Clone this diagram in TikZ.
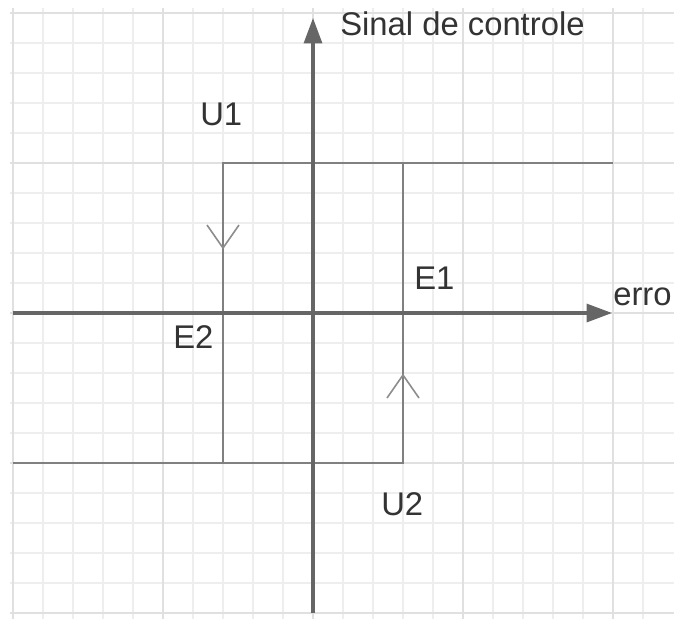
\documentclass[tikz,border=0pt]{standalone}
\usepackage{fontspec}
\setmainfont{Liberation Sans}
\usetikzlibrary{arrows.meta}
\definecolor{gridminor}{HTML}{EEEEEE}
\definecolor{gridmajor}{HTML}{E0E0E0}
\definecolor{axiscol}{HTML}{666666}
\definecolor{curvecol}{HTML}{808080}
\definecolor{textcol}{HTML}{333333}
\tikzset{
  minorgrid/.style={gridminor, line width=0.9pt},
  majorgrid/.style={gridmajor, line width=1pt},
  axis/.style={axiscol, line width=2.3pt, -{Triangle[length=19pt,width=13.5pt]}},
  loopline/.style={curvecol, line width=1.7pt},
  vtip/.style={curvecol!90, line width=1.2pt, line join=miter},
  lbl/.style={anchor=base west, inner sep=0pt, text=textcol, font=\fontsize{24.6}{28}\selectfont}
}
\begin{document}
\begin{tikzpicture}[x=0.75pt,y=-0.75pt]
  \useasboundingbox (0,0) rectangle (674,619);
  \fill[white] (0,0) rectangle (674,619);

  % background grid, 30 px cells, darker every fifth line
  \foreach \k in {0,...,21} {
    \pgfmathsetmacro{\p}{13+30*\k}
    \draw[minorgrid] (\p,8) -- (\p,619);
  }
  \foreach \k in {0,...,20} {
    \pgfmathsetmacro{\p}{13+30*\k}
    \draw[minorgrid] (10,\p) -- (674,\p);
  }
  \foreach \p in {13,163,313,463,613} {
    \draw[majorgrid] (\p,8) -- (\p,619);
    \draw[majorgrid] (10,\p) -- (674,\p);
  }

  % corner points of the hysteresis loop
  \coordinate (tl) at (223,163);
  \coordinate (tr) at (613,163);
  \coordinate (e1top) at (403,163);
  \coordinate (bl) at (13,463);
  \coordinate (br) at (403,463);
  \coordinate (e2bot) at (223,463);

  % hysteresis relay characteristic
  \draw[loopline] (tr) -- (tl) -- (e2bot);
  \draw[loopline] (bl) -- (br) -- (e1top);

  % direction marks on the switching edges
  \coordinate (dn) at (223,248);
  \coordinate (up) at (403,375);
  \draw[vtip] ([xshift=-16*0.75pt,yshift=23*0.75pt]dn) -- (dn) -- ([xshift=16*0.75pt,yshift=23*0.75pt]dn);
  \draw[vtip] ([xshift=-16*0.75pt,yshift=-23*0.75pt]up) -- (up) -- ([xshift=16*0.75pt,yshift=-23*0.75pt]up);

  % axes
  \coordinate (xstart) at (13,313);
  \coordinate (xend) at (612,313);
  \coordinate (ystart) at (313,613);
  \coordinate (yend) at (313,18);
  \draw[axis] (xstart) -- (xend);
  \draw[axis] (ystart) -- (yend);

  % labels
  \node[lbl] (ylabel) at (340,35) {Sinal de controle};
  \node[lbl] (xlabel) at (613,305) {erro};
  \node[lbl] (u1) at (200,125) {U1};
  \node[lbl] (u2) at (381,515) {U2};
  \node[lbl] (e1) at (414,289) {E1};
  \node[lbl] (e2) at (173,348) {E2};
\end{tikzpicture}
\end{document}
